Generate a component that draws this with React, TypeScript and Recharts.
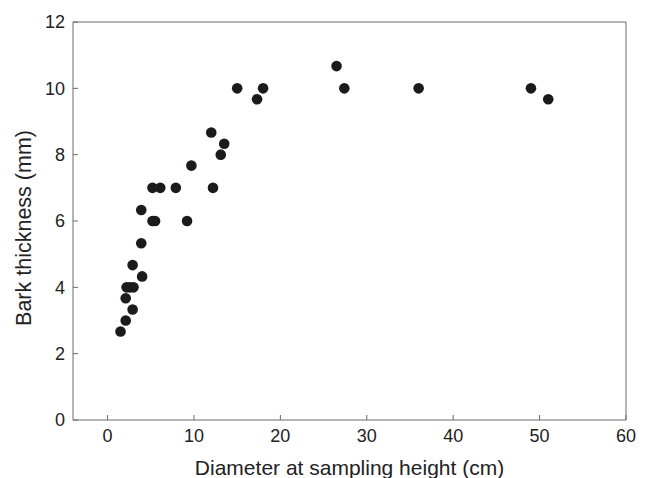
import React from 'react';
import { ScatterChart, Scatter, XAxis, YAxis } from 'recharts';

// diameter at sampling height (cm) and bark thickness (mm)
const diameter = [
  1.5, 2.1, 2.9, 2.1, 2.2, 2.6, 3.0, 4.0, 2.9, 3.9, 5.2, 5.5, 3.9, 9.2, 5.2,
  6.1, 7.9, 12.2, 9.7, 13.1, 13.5, 12.0, 15.0, 17.3, 18.0, 26.5, 27.4, 36.0, 49.0, 51.0,
];
const thickness = [
  2.67, 3.0, 3.33, 3.67, 4.0, 4.0, 4.0, 4.33, 4.67, 5.33, 6.0, 6.0, 6.33, 6.0, 7.0,
  7.0, 7.0, 7.0, 7.67, 8.0, 8.33, 8.67, 10.0, 9.67, 10.0, 10.67, 10.0, 10.0, 10.0, 9.67,
];
const xTicks = [0, 10, 20, 30, 40, 50, 60];
const yTicks = [0, 2, 4, 6, 8, 10, 12];

const points = diameter.map((d, i) => ({ d, t: thickness[i] }));

const FONT = '"Liberation Sans", Arial, Helvetica, sans-serif';
const AXIS = '#6a6a6a';
const tickStyle = { fontSize: 18, fill: '#222', fontFamily: FONT };

const Dot = (p: any) => <circle cx={p.cx} cy={p.cy} r={5.3} fill="#1c1a1b" />;
const Nothing = () => <g />;

export default function App() {
  return (
    <div style={{ position: 'absolute', left: 0, top: 0, background: '#fff' }}>
      <ScatterChart width={651} height={478} margin={{ top: 21, right: 24, left: 0, bottom: 0 }}>
        <XAxis
          xAxisId="b"
          dataKey="d"
          type="number"
          domain={[-4, 60]}
          allowDataOverflow
          ticks={xTicks}
          height={58}
          tickSize={-5}
          tickMargin={14}
          stroke={AXIS}
          tick={tickStyle}
          label={{
            content: (p: any) => (
              <text
                x={p.viewBox.x + p.viewBox.width / 2}
                y={p.viewBox.y + 55}
                textAnchor="middle"
                fontSize={21}
                fontFamily={FONT}
                fill="#222"
              >
                Diameter at sampling height (cm)
              </text>
            ),
          }}
        />
        <XAxis
          xAxisId="t"
          dataKey="d"
          orientation="top"
          type="number"
          domain={[-4, 60]}
          allowDataOverflow
          ticks={xTicks}
          height={1}
          tickSize={-5}
          tick={false}
          stroke={AXIS}
        />
        <YAxis
          yAxisId="l"
          dataKey="t"
          type="number"
          domain={[0, 12]}
          allowDataOverflow
          ticks={yTicks}
          width={73}
          tickSize={-5}
          tickMargin={13}
          stroke={AXIS}
          tick={tickStyle}
          label={{
            content: (p: any) => {
              const x = p.viewBox.x + 24;
              const y = p.viewBox.y + p.viewBox.height / 2 + 7;
              return (
                <text
                  x={x}
                  y={y}
                  transform={`rotate(-90 ${x} ${y})`}
                  textAnchor="middle"
                  dominantBaseline="central"
                  fontSize={21.5}
                  fontFamily={FONT}
                  fill="#222"
                >
                  Bark thickness (mm)
                </text>
              );
            },
          }}
        />
        <YAxis
          yAxisId="r"
          dataKey="t"
          orientation="right"
          type="number"
          domain={[0, 12]}
          allowDataOverflow
          ticks={yTicks}
          width={1}
          tickSize={-5}
          tick={false}
          stroke={AXIS}
        />
        {/* invisible copy bound to the top/right axes so the box frame is drawn */}
        <Scatter
          data={points}
          xAxisId="t"
          yAxisId="r"
          shape={Nothing}
          isAnimationActive={false}
        />
        <Scatter
          data={points}
          xAxisId="b"
          yAxisId="l"
          shape={Dot}
          isAnimationActive={false}
        />
      </ScatterChart>
    </div>
  );
}
